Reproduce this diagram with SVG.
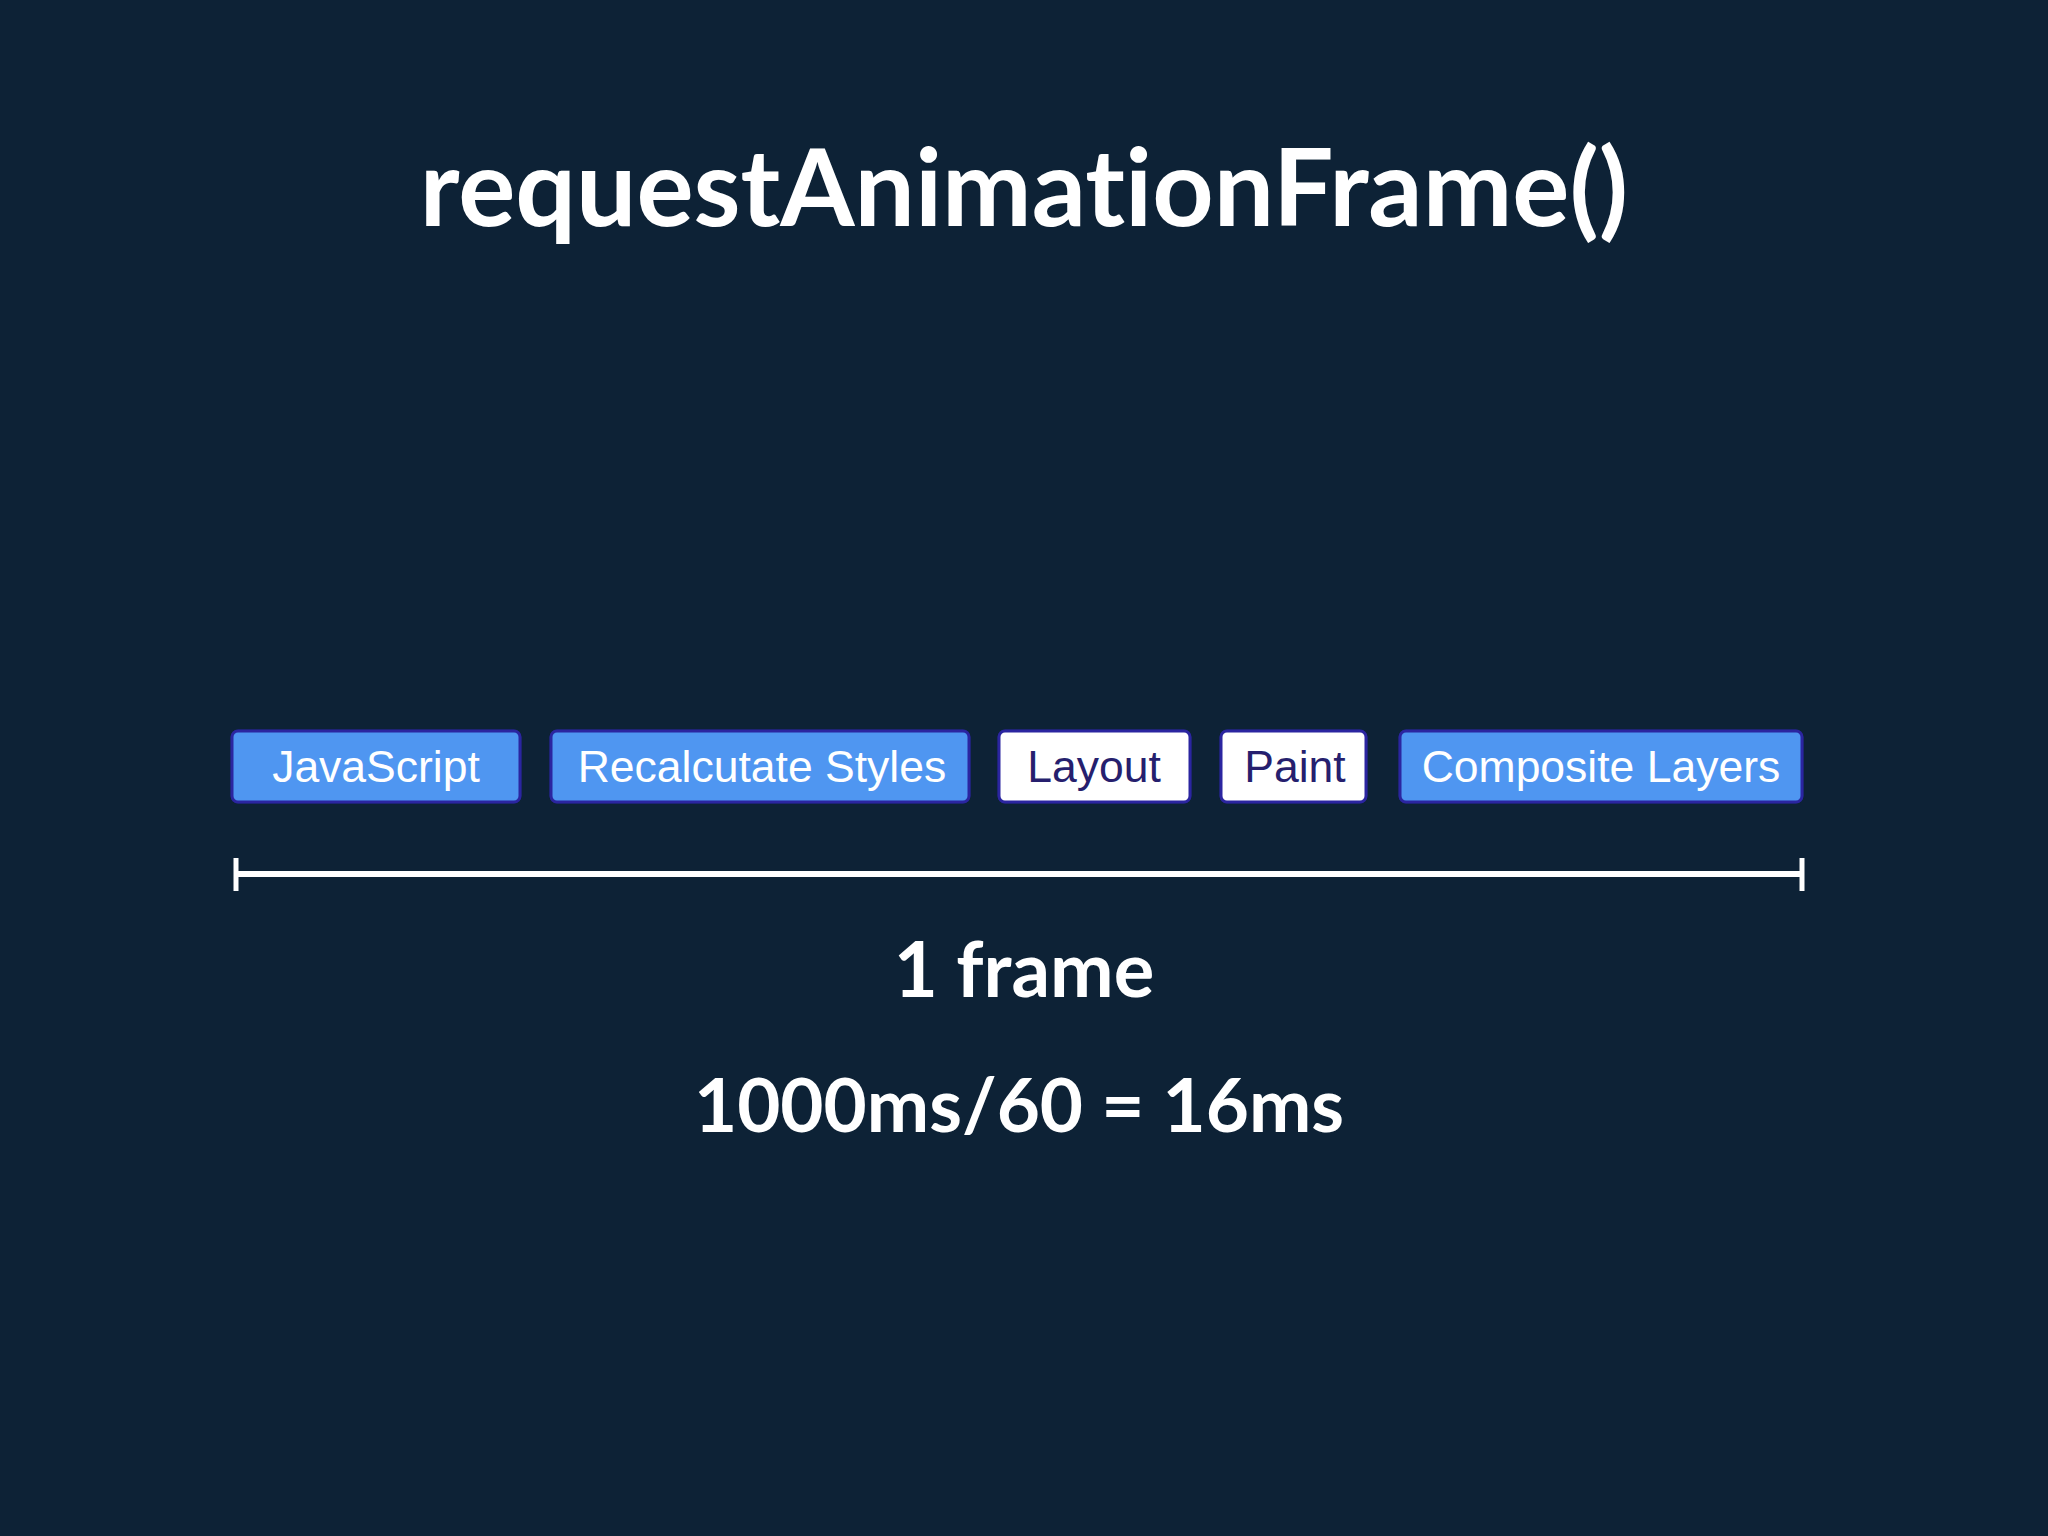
<svg xmlns="http://www.w3.org/2000/svg" width="2048" height="1536" viewBox="0 0 2048 1536">
<style>
.bg{fill:#0d2236}
.title{font-family:Lato,"Open Sans",sans-serif;font-weight:700;fill:#ffffff;text-anchor:middle;font-variant-ligatures:none;font-feature-settings:"liga" 0}
.box rect{stroke:#2b25a0;stroke-width:3}
.blue rect{fill:#4f96f1}
.white rect{fill:#ffffff}
.lbl{font-family:"Liberation Sans",Arial,sans-serif;font-size:44.5px;text-anchor:middle}
.blue .lbl{fill:#ffffff}
.white .lbl{fill:#261f6e}
.glow{fill:none;stroke:#2a2a90;stroke-opacity:0.45;stroke-width:7}
</style>
<rect class="bg" x="0" y="0" width="2048" height="1536"/>
<text class="title" x="1024" y="226" font-size="107">requestAnimationFrame()</text>
<g id="node-javascript" class="box blue">
<rect class="glow" x="232" y="731" width="288" height="71" rx="6"/>
<rect x="232" y="731" width="288" height="71" rx="6"/>
<text class="lbl" x="376" y="782">JavaScript</text>
</g>
<g id="node-recalc" class="box blue">
<rect class="glow" x="551" y="731" width="418" height="71" rx="6"/>
<rect x="551" y="731" width="418" height="71" rx="6"/>
<text class="lbl" x="762" y="782">Recalcutate Styles</text>
</g>
<g id="node-layout" class="box white">
<rect class="glow" x="999" y="731" width="191" height="71" rx="6"/>
<rect x="999" y="731" width="191" height="71" rx="6"/>
<text class="lbl" x="1094" y="782">Layout</text>
</g>
<g id="node-paint" class="box white">
<rect class="glow" x="1221" y="731" width="145" height="71" rx="6"/>
<rect x="1221" y="731" width="145" height="71" rx="6"/>
<text class="lbl" x="1295" y="782">Paint</text>
</g>
<g id="node-composite" class="box blue">
<rect class="glow" x="1400" y="731" width="402" height="71" rx="6"/>
<rect x="1400" y="731" width="402" height="71" rx="6"/>
<text class="lbl" x="1601" y="782">Composite Layers</text>
</g>
<g id="connectors" stroke="#ffffff" fill="none">
<line x1="236" y1="874" x2="1802" y2="874" stroke-width="6"/>
<line x1="236" y1="858" x2="236" y2="891" stroke-width="5"/>
<line x1="1802" y1="858" x2="1802" y2="891" stroke-width="5"/>
</g>
<text class="title" x="1024" y="997" font-size="76">1 frame</text>
<text class="title" x="1019" y="1132" font-size="74.5">1000ms/60 = 16ms</text>
</svg>
